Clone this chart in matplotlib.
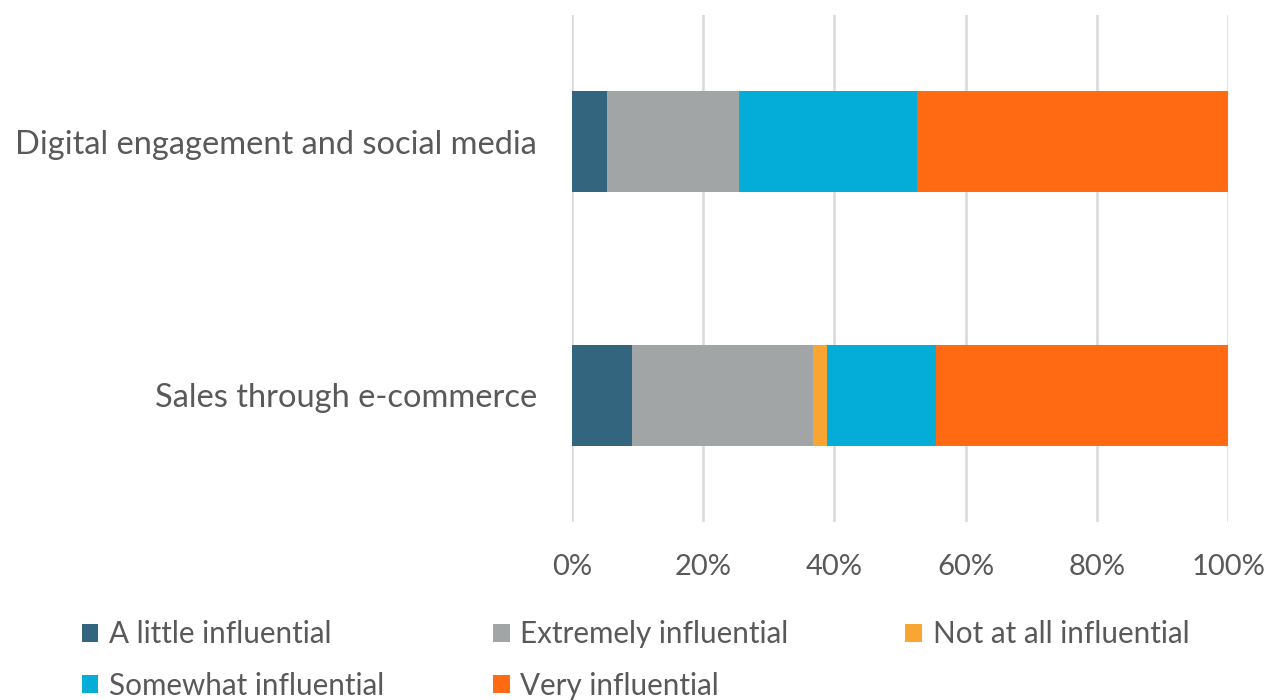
import numpy as np
import matplotlib.pyplot as plt
from matplotlib.ticker import PercentFormatter

plt.rcParams['font.family'] = ['Lato', 'DejaVu Sans']

categories = ['Sales through e-commerce', 'Digital engagement and social media']
series = ['A little influential', 'Extremely influential', 'Not at all influential',
          'Somewhat influential', 'Very influential']
values = {
    'A little influential': [9.1, 5.3],
    'Extremely influential': [27.7, 20.1],
    'Not at all influential': [2.1, 0.0],
    'Somewhat influential': [16.6, 27.2],
    'Very influential': [44.5, 47.4],
}
colors = ['#33657F', '#A2A5A6', '#F9A533', '#03ADD8', '#FF6A13']
text_color = '#595959'

fig = plt.figure(figsize=(12.68, 7.0), dpi=100)
ax = fig.add_axes([0.451, 0.254, 0.5177, 0.725])

y = np.arange(len(categories))
left = np.zeros(len(categories))
handles = {}
for name, c in zip(series, colors):
    v = np.array(values[name])
    handles[name] = ax.barh(y, v, left=left, height=0.4, color=c, label=name, zorder=3)
    left += v

ax.set_xlim(0, 100)
ax.set_ylim(-0.5, 1.5)
ax.set_xticks(np.arange(0, 101, 20))
ax.xaxis.set_major_formatter(PercentFormatter(decimals=0))
ax.set_yticks(y)
ax.set_yticklabels(categories)
ax.grid(axis='x', color='#D9D9D9', linewidth=1.8, zorder=0)
for s in ax.spines.values():
    s.set_visible(False)
ax.tick_params(axis='both', length=0, labelcolor=text_color)
ax.tick_params(axis='x', pad=23, labelsize=21)
ax.tick_params(axis='y', pad=25, labelsize=23.5)

# legend laid out row by row in three equal-width columns
columns = [series[0::3], series[1::3], series[2::3]]
col_x = [0.0643, 0.389, 0.714]
for names, x0 in zip(columns, col_x):
    leg = fig.legend(handles=[handles[n] for n in names], labels=names, ncol=1,
                     loc='upper left', bbox_to_anchor=(x0, 0.114), frameon=False,
                     fontsize=21.3, labelcolor=text_color, handlelength=0.55,
                     handleheight=0.55, handletextpad=0.37, labelspacing=0.8,
                     borderpad=0, borderaxespad=0)

fig.savefig('out.png', dpi=100)
